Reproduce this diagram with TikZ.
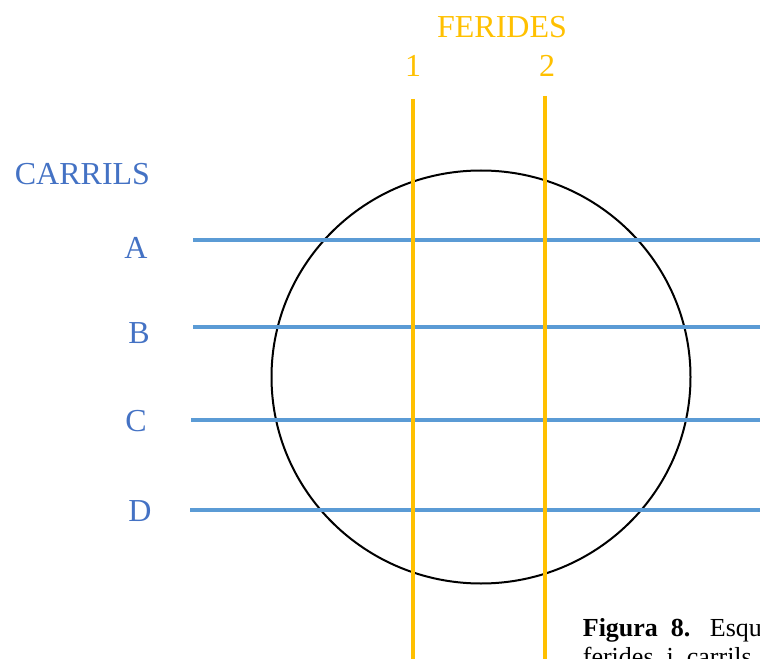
\documentclass[tikz,border=0pt]{standalone}
\usepackage{fontspec}
\setmainfont{Liberation Serif}
\definecolor{feridacol}{HTML}{FFC000}
\definecolor{carrilcol}{HTML}{5B9BD5}
\definecolor{textcol}{HTML}{4472C4}
\begin{document}
\begin{tikzpicture}[x=0.75pt, y=-0.75pt, line width=2.8pt,
    ferida/.style={draw=feridacol},
    carril/.style={draw=carrilcol},
    lbl/.style={font=\fontsize{24}{29}\selectfont, inner sep=0pt, anchor=base}]
    \useasboundingbox (0,0) rectangle (760,659);
    \clip (0,0) rectangle (760,659);
    % cercle
    \draw[black, line width=1.5pt] (481,377) ellipse [x radius=209.5, y radius=206.5];
    % carrils
    \coordinate (cAl) at (193,240); \coordinate (cAr) at (761,240);
    \coordinate (cBl) at (193,327); \coordinate (cBr) at (761,327);
    \coordinate (cCl) at (191,420); \coordinate (cCr) at (761,420);
    \coordinate (cDl) at (190,510); \coordinate (cDr) at (761,510);
    \draw[carril] (cAl) -- (cAr);
    \draw[carril] (cBl) -- (cBr);
    \draw[carril] (cCl) -- (cCr);
    \draw[carril] (cDl) -- (cDr);
    % ferides
    \coordinate (f1t) at (413,99);  \coordinate (f1b) at (413,660);
    \coordinate (f2t) at (545,96);  \coordinate (f2b) at (545,660);
    \draw[ferida] (f1t) -- (f1b);
    \draw[ferida] (f2t) -- (f2b);
    % etiquetes
    \node[lbl, feridacol] (ferides) at (502,38) {FERIDES};
    \node[lbl, feridacol] (n1) at (413,77) {1};
    \node[lbl, feridacol] (n2) at (547,77) {2};
    \node[lbl, textcol, anchor=base west] (carrils) at (13,185) {CARRILS};
    \node[lbl, textcol] (lA) at (136,258) {A};
    \node[lbl, textcol] (lB) at (139,343) {B};
    \node[lbl, textcol] (lC) at (136,431) {C};
    \node[lbl, textcol] (lD) at (140,521) {D};
    % peu de figura
    \node[font=\fontsize{19.5}{22}\selectfont, inner sep=0pt, anchor=base west] (cap1) at (581,636) {\textbf{Figura\ \ 8.}\ \ \ Esquema};
    \node[font=\fontsize{19.5}{22}\selectfont, inner sep=0pt, anchor=base west] (cap2) at (581,665) {ferides\ \ i\ \ carrils};
\end{tikzpicture}
\end{document}
